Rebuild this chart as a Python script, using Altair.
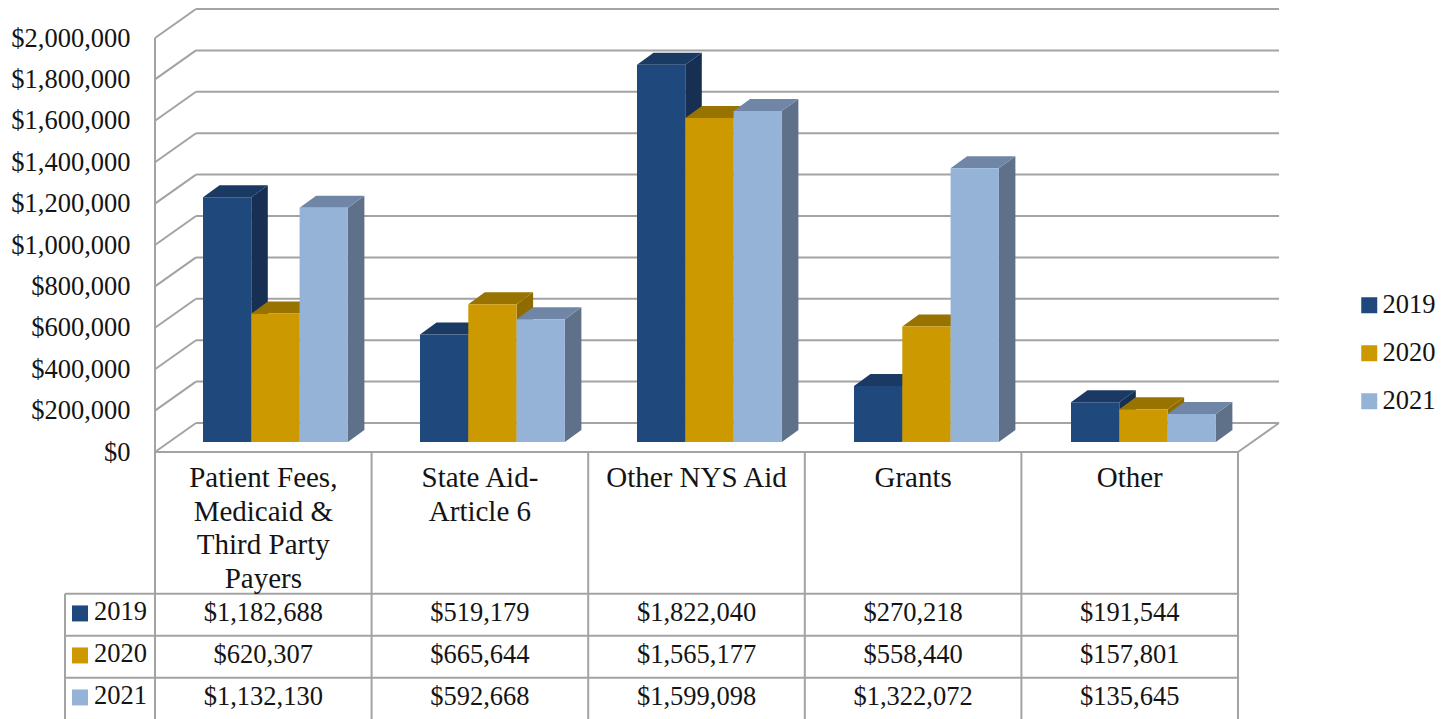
import altair as alt
import pandas as pd

years = ["2019", "2020", "2021"]
categories = ["Patient Fees, Medicaid & Third Party Payers", "State Aid-Article 6", "Other NYS Aid", "Grants", "Other"]
header_lines = [
    ["Patient Fees,", "Medicaid &", "Third Party", "Payers"],
    ["State Aid-", "Article 6"],
    ["Other NYS Aid"],
    ["Grants"],
    ["Other"],
]
values_2019 = [1182688, 519179, 1822040, 270218, 191544]
values_2020 = [620307, 665644, 1565177, 558440, 157801]
values_2021 = [1132130, 592668, 1599098, 1322072, 135645]
series = dict(zip(years, [values_2019, values_2020, values_2021]))
front_colors = ["#1F497D", "#CC9900", "#95B3D7"]
side_colors = ["#162F52", "#8F6C00", "#5F7089"]
top_colors = ["#1A3A63", "#997300", "#7086A6"]
ticks = list(range(0, 2000001, 200000))

FONT = "Liberation Serif"
FS = 26.5
HEAD_FS = 29
INK = "#141414"
LINE = "#A3A3A3"
W, H = 1438, 711
CAT = 216.6          # px per category slot
SLOT = 217 / 216.6   # bar clusters repeat a little wider than the table cells
DOL = 207 / 1e6      # px per dollar
ROW = 42.0           # px per table row
ORIGIN_X, ORIGIN_Y = 147.0, 444.0   # chart px of the floor's front-left corner


def ux(px):
    return px / CAT


def uy(px):
    return px / DOL


x_scale = alt.Scale(domain=[ux(-ORIGIN_X), ux(W - ORIGIN_X)], range=[0, W], nice=False, zero=False)
y_scale = alt.Scale(domain=[uy(ORIGIN_Y - H), uy(ORIGIN_Y)], range=[H, 0], nice=False, zero=False)
t_end = (H - ORIGIN_Y) / ROW
t_scale = alt.Scale(domain=[0, t_end], range=[ORIGIN_Y, H], nice=False, zero=False)
color_scale = alt.Scale(domain=years, range=front_colors)

X = alt.X("x:Q", scale=x_scale, axis=None)
Y = alt.Y("y:Q", scale=y_scale, axis=None)
T = alt.Y("t:Q", scale=t_scale, axis=None)

# geometry of the 3D bars, in data units
first = ux(48)
bar_w = ux(48.3)
depth_x, depth_y = ux(16.5), uy(12)
base = uy(10)
wall_x, wall_y = ux(41), uy(29)

fronts, sides, tops = [], [], []
for s, year in enumerate(years):
    for c, v in enumerate(series[year]):
        l = c * SLOT + first + s * bar_w
        r = l + bar_w
        top = base + v
        bid = f"{year}-{c}"
        fronts.append(dict(x=l, x2=r, y=base, y2=top, year=year))
        sides += [
            dict(id=bid, fill=side_colors[s], x=r, y=top, y2=base),
            dict(id=bid, fill=side_colors[s], x=r + depth_x, y=top + depth_y, y2=base + depth_y),
        ]
        tops += [
            dict(id=bid, fill=top_colors[s], x=l, y=top, y2=top),
            dict(id=bid, fill=top_colors[s], x=l + depth_x, y=top + depth_y, y2=top),
            dict(id=bid, fill=top_colors[s], x=r, y=top + depth_y, y2=top),
            dict(id=bid, fill=top_colors[s], x=r + depth_x, y=top + depth_y, y2=top + depth_y),
        ]

# walls and floor
end_x = 5.0
wall = []
for v in ticks:
    wall.append(dict(x=0, x2=wall_x, y=v, y2=v + wall_y))
    wall.append(dict(x=wall_x, x2=end_x + wall_x, y=v + wall_y, y2=v + wall_y))
wall.append(dict(x=0, x2=0, y=0, y2=ticks[-1]))
wall.append(dict(x=0, x2=end_x, y=0, y2=0))
wall.append(dict(x=end_x, x2=end_x + wall_x, y=0, y2=wall_y))

# table
left_x = ux(-90)
head_rows = (593.7 - 452) / ROW
table_lines = []
for i in range(6):
    table_lines.append(dict(x=i, x2=i, t=0, t2=t_end))
table_lines.append(dict(x=left_x, x2=left_x, t=head_rows, t2=t_end))
for i in range(3):
    table_lines.append(dict(x=left_x, x2=5.005, t=head_rows + i, t2=head_rows + i))

head_text = []
for c, lines in enumerate(header_lines):
    for k, line in enumerate(lines):
        head_text.append(dict(x=c + 0.5, t=(26 + 33.5 * k) / ROW, label=line))

cells, row_keys = [], []
for s, year in enumerate(years):
    row_keys.append(dict(x=ux(-75), lx=ux(-61), t=head_rows + s + 0.47, tl=head_rows + s + 0.43, year=year))
    for c, v in enumerate(series[year]):
        cells.append(dict(x=c + 0.5, t=head_rows + s + 0.46, v=v))

wall_layer = alt.Chart(pd.DataFrame(wall)).mark_rule(color=LINE, strokeWidth=2).encode(
    x=X,
    x2="x2:Q",
    y=alt.Y(
        "y:Q",
        scale=y_scale,
        axis=alt.Axis(
            values=ticks,
            format="$,.0f",
            orient="left",
            offset=-ORIGIN_X,
            ticks=False,
            domain=False,
            grid=False,
            title=None,
            labelFont=FONT,
            labelFontSize=FS,
            labelColor=INK,
            labelPadding=25,
            labelOverlap=False,
            labelFlush=False,
        ),
    ),
    y2="y2:Q",
)

side_layer = alt.Chart(pd.DataFrame(sides)).mark_area(interpolate="linear").encode(
    x=X, y=Y, y2="y2:Q", color=alt.Color("fill:N", scale=None), detail="id:N"
)
top_layer = alt.Chart(pd.DataFrame(tops)).mark_area(interpolate="linear").encode(
    x=X, y=Y, y2="y2:Q", color=alt.Color("fill:N", scale=None), detail="id:N"
)
front_layer = alt.Chart(pd.DataFrame(fronts)).mark_rect().encode(
    x=X,
    x2="x2:Q",
    y=Y,
    y2="y2:Q",
    color=alt.Color(
        "year:N",
        scale=color_scale,
        legend=alt.Legend(
            orient="none",
            legendX=1348,
            legendY=284,
            title=None,
            labelFont=FONT,
            labelFontSize=FS,
            labelColor=INK,
            symbolType="square",
            symbolSize=256,
            symbolStrokeWidth=0,
            labelOffset=0,
            rowPadding=21,
        ),
    ),
)

table_rule_layer = alt.Chart(pd.DataFrame(table_lines)).mark_rule(color=LINE, strokeWidth=2).encode(
    x=X, x2="x2:Q", y=T, y2="t2:Q"
)
head_layer = alt.Chart(pd.DataFrame(head_text)).mark_text(
    font=FONT, fontSize=HEAD_FS, color=INK, baseline="middle", align="center"
).encode(x=X, y=T, text="label:N")
cell_layer = alt.Chart(pd.DataFrame(cells)).mark_text(
    font=FONT, fontSize=FS, color=INK, baseline="middle", align="center"
).encode(x=X, y=T, text=alt.Text("v:Q", format="$,.0f"))
key_df = pd.DataFrame(row_keys)
key_layer = alt.Chart(key_df).mark_point(shape="square", filled=True, size=256, opacity=1, strokeWidth=0).encode(
    x=X, y=T, color=alt.Color("year:N", scale=color_scale, legend=None)
)
key_text_layer = alt.Chart(key_df).mark_text(
    font=FONT, fontSize=FS, color=INK, baseline="middle", align="left"
).encode(x=alt.X("lx:Q", scale=x_scale, axis=None), y=alt.Y("tl:Q", scale=t_scale, axis=None), text="year:N")

chart = (
    alt.layer(
        wall_layer,
        side_layer,
        top_layer,
        front_layer,
        table_rule_layer,
        head_layer,
        cell_layer,
        key_layer,
        key_text_layer,
    )
    .resolve_scale(y="independent")
    .properties(width=W, height=H, padding=0, autosize=alt.AutoSizeParams(type="none"))
    .configure_view(stroke=None)
)

chart.save("out.html", embed_options={"renderer": "svg", "actions": False})
